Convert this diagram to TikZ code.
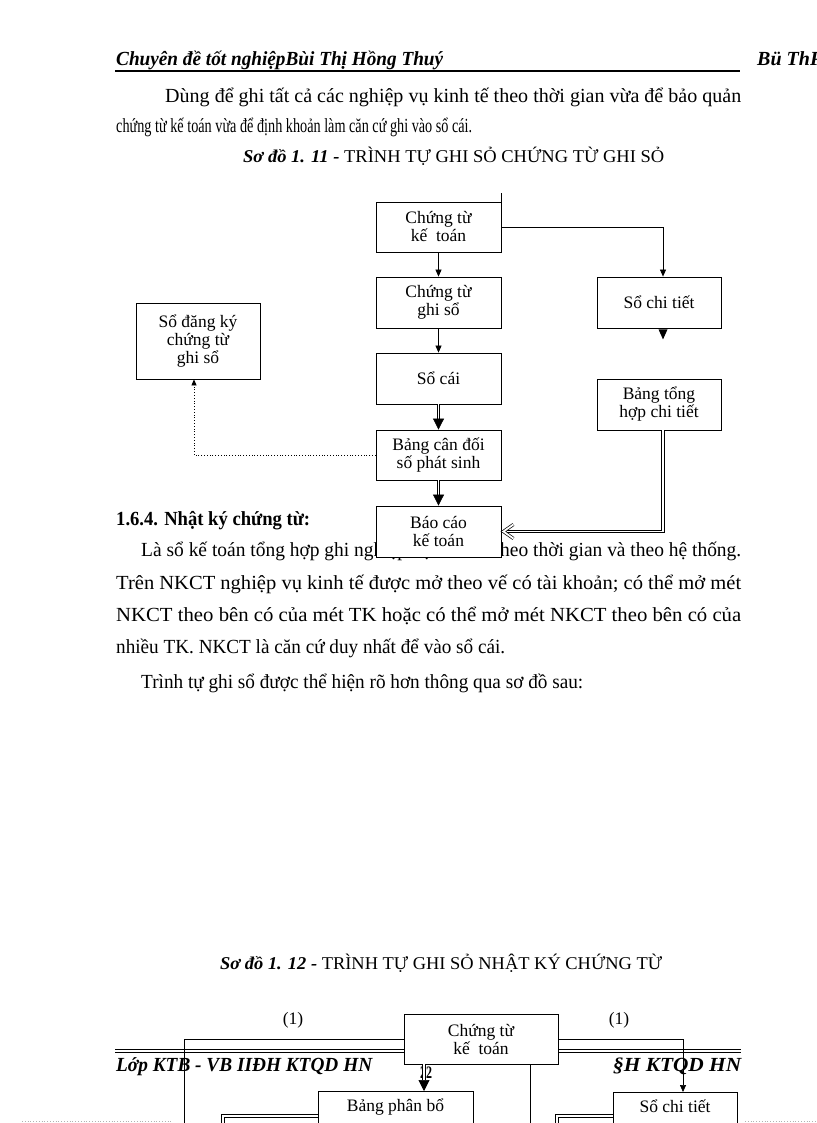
\documentclass[tikz,border=0pt]{standalone}
\usepackage{fontspec}
\setmainfont{Liberation Serif}
\usetikzlibrary{arrows.meta}
\newcommand\fitw[2]{\resizebox{#1pt}{\height}{#2}}
\newcommand\boxfont{\fontsize{17.5}{18}\selectfont}
\newcommand\txtfont{\fontsize{20}{22}\selectfont}
\newcommand\hdfont{\fontsize{20}{22}\selectfont\bfseries\itshape}

\begin{document}
\begin{tikzpicture}[x=1pt,y=-1pt,
  txt/.style={anchor=base west,inner sep=0pt,font=\txtfont},
  capt/.style={txt,font=\fontsize{18}{20}\selectfont},
  box/.style={draw,fill=white,line width=0.8pt,minimum width=125pt,minimum height=50pt,
    align=center,font=\boxfont,inner sep=2pt},
  arr/.style={line width=0.7pt,-{Triangle[length=7pt,width=6pt]}},
  dbl/.style={double,double distance=1.8pt,line width=0.7pt},
  darr/.style={dbl,-{Triangle[length=11pt,width=11pt]}}]
  \useasboundingbox[fill=white] (0,0) rectangle (816,1123);

  \node[txt,font=\hdfont] (hd) at (116,66) {\fitw{327}{Chuyên đề tốt nghiệpBùi Thị Hồng Thuý}};
  \node[txt,font=\hdfont] (hdr) at (757,66) {Bü ThP};
  \draw[line width=1.6pt] (115,71) -- (740,71);

  \node[txt] (p1) at (165,103) {\fitw{576}{Dùng để ghi tất cả các nghiệp vụ kinh tế theo thời gian vừa để bảo quản}};
  \node[txt] (p2) at (116,133) {\fitw{356}{chứng từ kế toán vừa để định khoản làm căn cứ ghi vào sổ cái.}};
  \node[capt] (cap1) at (243,163) {\fitw{421}{\textbf{\textit{Sơ đồ 1. 11 -}} TRÌNH TỰ GHI SỎ CHỨNG TỪ GHI SỎ}};
  \node[txt,font=\txtfont\bfseries] (h164) at (116,525) {\fitw{194}{1.6.4. Nhật ký chứng từ:}};
  \node[txt] (p3) at (141,556) {\fitw{600}{Là sổ kế toán tổng hợp ghi nghiệp vụ kinh tế theo thời gian và theo hệ thống.}};
  \node[txt] (p4) at (116,589) {\fitw{625}{Trên NKCT nghiệp vụ kinh tế được mở theo vế có tài khoản; có thể mở mét}};
  \node[txt] (p5) at (116,621) {\fitw{625}{NKCT theo bên có của mét TK hoặc có thể mở mét NKCT theo bên có của}};
  \node[txt] (p6) at (116,653) {\fitw{389}{nhiều TK. NKCT là căn cứ duy nhất để vào sổ cái.}};
  \node[txt] (p7) at (141,688) {\fitw{442}{Trình tự ghi sổ được thể hiện rõ hơn thông qua sơ đồ sau:}};
  \node[capt] (cap2) at (220,969) {\fitw{442}{\textbf{\textit{Sơ đồ 1. 12 -}} TRÌNH TỰ GHI SỎ NHẬT KÝ CHỨNG TỪ}};

  \draw[line width=0.8pt] (115,1049) -- (741,1049) (115,1052.5) -- (741,1052.5);
  \node[txt,font=\hdfont] (ft1) at (116,1071) {\fitw{256}{Lớp KTB - VB IIĐH KTQD HN}};
  \node[txt,font=\hdfont] (ft2) at (613,1071) {\fitw{128}{§H KTQD HN}};
  \node[font=\boxfont\bfseries,inner sep=0pt] (pg) at (426,1073) {\fitw{12}{22}};

  \node[box] (ctkt) at (438.5,227) {Chứng từ\\kế\ \ toán};
  \node[box,minimum height=51pt] (ctgs) at (438.5,302.5) {Chứng từ\\ghi sổ};
  \node[box,minimum height=51pt] (socai) at (438.5,378.5) {Sổ cái};
  \node[box] (bcd) at (438.5,455) {Bảng cân đối\\số phát sinh};
  \node[box,minimum height=51pt] (bckt) at (438.5,531.5) {Báo cáo\\kế toán};
  \node[box,minimum width=124pt,minimum height=76pt] (sdk) at (198,341) {Sổ đăng ký\\chứng từ\\ghi sổ};
  \node[box,minimum width=124pt,minimum height=51pt] (sct) at (659,302.5) {Sổ chi tiết};
  \node[box,minimum width=124pt,minimum height=51pt] (bth) at (659,404.5) {Bảng tổng\\hợp chi tiết};

  \draw[line width=0.8pt] (ctkt.north east) -- ++(0,-9);
  \draw[arr] (ctkt) -- (ctgs);
  \draw[arr] (ctgs) -- (socai);
  \draw[darr] (socai) -- (bcd);
  \draw[darr] (bcd) -- (bckt);
  \draw[arr] (ctkt.east) -| ([xshift=4pt]sct.north);
  \fill ([xshift=4pt]sct.south) +(-4.5,1) -- +(4.5,1) -- +(0,11) -- cycle;
  \draw[dbl] ([xshift=4pt]bth.south) |- ([xshift=3pt]bckt.east);
  \draw[dbl,line join=miter] ([shift={(12,-7)}]bckt.east) -- ([xshift=2pt]bckt.east) -- ([shift={(12,7)}]bckt.east);
  \draw[dotted,line width=0.8pt,-{Triangle[length=6pt,width=5pt]}] (bcd.west) -| ([xshift=-4pt]sdk.south);

  \node[font=\boxfont] (n1a) at (293,1020) {(1)};
  \node[font=\boxfont] (n1b) at (619,1020) {(1)};
  \node[box,minimum width=154pt] (ctkt2) at (481,1039) {Chứng từ\\kế\ \ toán};
  \node[box,anchor=north,minimum width=155pt,text height=13pt,text depth=40pt,inner ysep=7pt] (bpb) at (395.5,1091) {Bảng phân bổ};
  \node[box,anchor=north,minimum width=124pt,text height=13pt,text depth=40pt,inner ysep=7pt] (sct2) at (675,1092) {Sổ chi tiết};
  \coordinate (l1) at (184,1130);
  \coordinate (l2) at (530,1130);
  \coordinate (l3) at (223,1130);
  \coordinate (l4) at (557,1130);
  \draw[line width=0.7pt] (ctkt2.west) -| (l1);
  \draw[arr] (ctkt2.east) -| ([xshift=8pt]sct2.north);
  \draw[darr] ([xshift=-57pt]ctkt2.south) -- ([xshift=28.5pt]bpb.north);
  \draw[line width=0.7pt] ([xshift=49pt]ctkt2.south) -- (l2);
  \draw[dbl] ([yshift=-25pt]bpb.north west) -| (l3);
  \draw[dbl] ([yshift=-24pt]sct2.north west) -| (l4);

  \draw[gray!60,dotted,line width=0.8pt] (22,1121.5) -- (172,1121.5) (745,1121.5) -- (816,1121.5);
\end{tikzpicture}
\end{document}
